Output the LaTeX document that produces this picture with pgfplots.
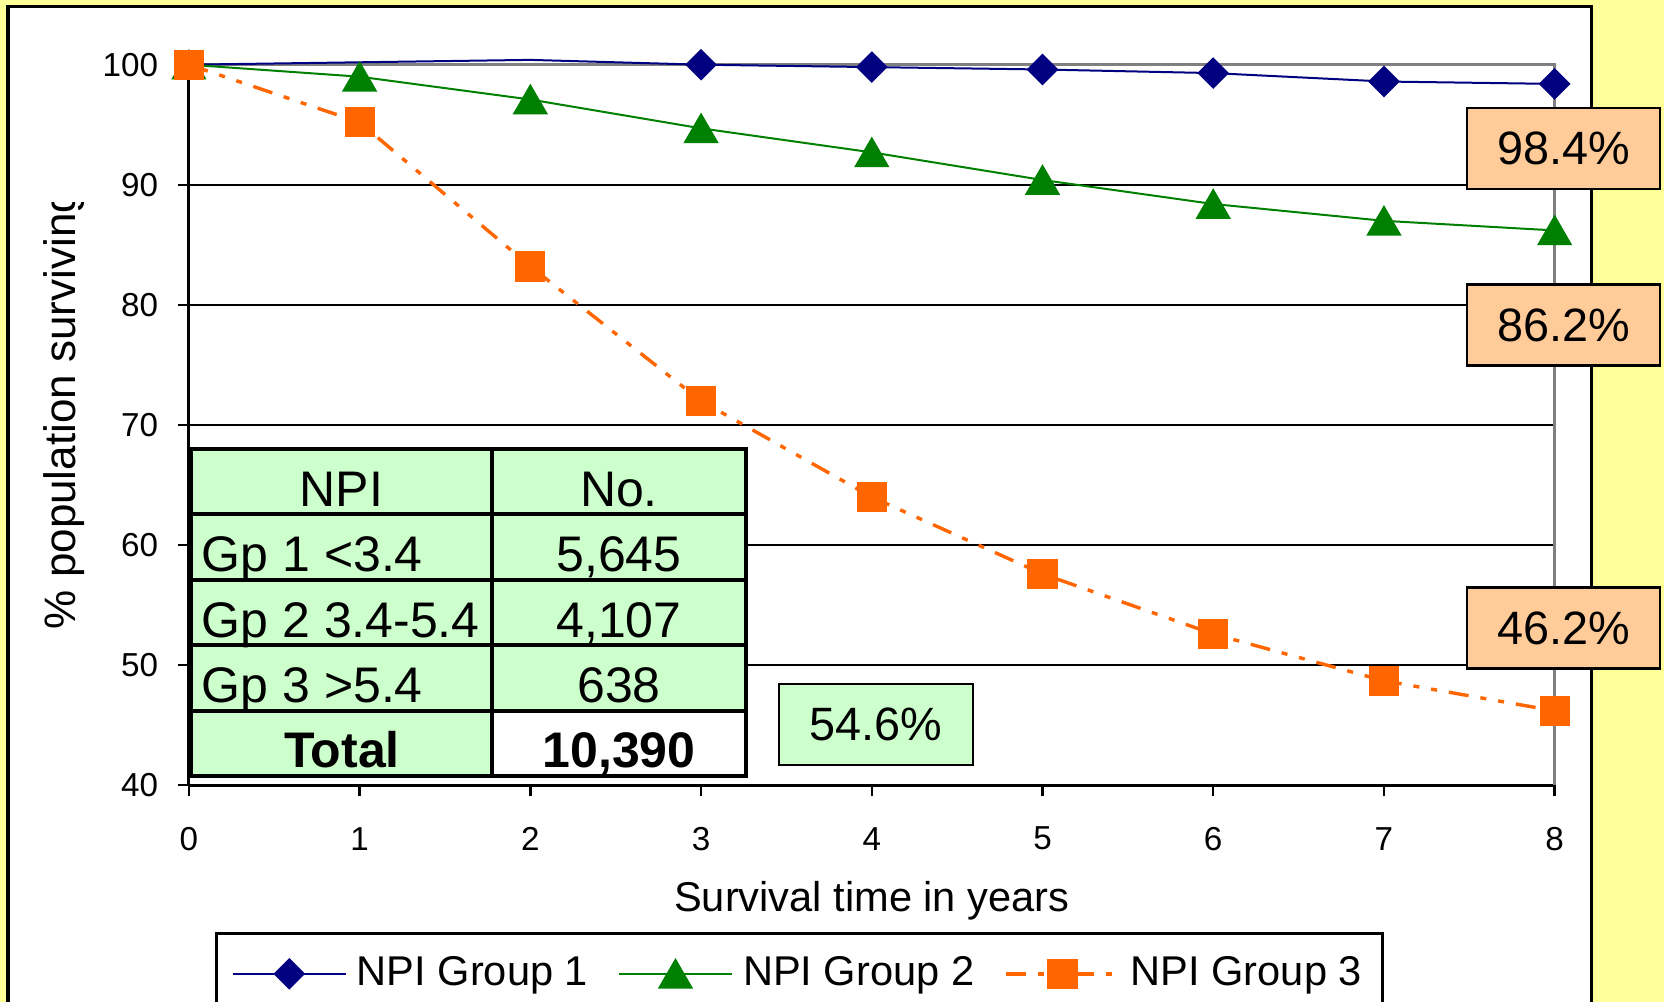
\documentclass[border=0pt]{standalone}
\usepackage{fontspec}
\setmainfont{Liberation Sans}
\usepackage{pgfplots}
\pgfplotsset{compat=1.18}
\definecolor{bg}{HTML}{FFFF99}
\definecolor{navyc}{HTML}{000080}
\definecolor{grp2}{HTML}{008000}
\definecolor{grp3}{HTML}{FF6600}
\definecolor{peach}{HTML}{FFCC99}
\definecolor{mint}{HTML}{CCFFCC}
\definecolor{gline}{HTML}{808080}
\begin{document}
\begin{tikzpicture}
\useasboundingbox (0,0) rectangle (416pt,-250.5pt);
\clip (0,0) rectangle (416pt,-250.5pt);
\fill[bg] (0,0) rectangle (416pt,-250.5pt);
\begin{scope}[x=0.25pt,y=-0.25pt]
\draw[fill=white, line width=0.9pt] (8,6.5) rectangle (1591.5,1040);
\end{scope}
\begin{axis}[
  scale only axis, width=341.45pt, height=180.15pt,
  at={(47.225pt,-196.325pt)}, anchor=south west,
  xmin=0, xmax=8, ymin=40, ymax=100,
  axis x line*=bottom, axis y line*=left,
  axis line style={line width=0.75pt, black},
  xtick={0,...,8}, ytick={40,50,...,100},
  tick align=outside, major tick length=2.75pt,
  tick style={line width=0.6pt, black},
  ymajorgrids, major grid style={line width=0.6pt, black},
  ticklabel style={font=\fontsize{8.3}{10}\selectfont},
  /pgf/number format/assume math mode=true,
  xticklabel style={anchor=center, inner sep=0pt, yshift=-10.6pt},
  yticklabel style={anchor=east, inner sep=0pt, xshift=-4.75pt},
  xlabel={Survival time in years},
  xlabel style={at={(axis description cs:0.5,0)}, anchor=center, inner sep=0pt, yshift=-28.9pt, font=\fontsize{10.4}{12}\selectfont},
  legend style={at={(0.0194,-0.2033)}, anchor=north west, legend columns=3,
    draw=black, line width=0.75pt, fill=white, inner xsep=3.75pt, inner ysep=4.25pt,
    font=\fontsize{10.4}{12}\selectfont, nodes={inner sep=1.5pt},
    /tikz/every odd column/.append style={column sep=1pt},
    /tikz/every even column/.append style={column sep=6pt}},
  legend image code/.code={\draw[mark repeat=2, mark phase=2, #1] plot coordinates {(0pt,0pt) (14.1pt,0pt) (28.25pt,0pt)};},
  clip=false,
]
\draw[gline, line width=0.6pt] (axis cs:0,100) -- (axis cs:8,100) -- (axis cs:8,40);
\addplot[navyc, line width=0.5pt, no marks, forget plot] coordinates {(0,100) (1,100.2) (2,100.4) (3,100.0)};
\addplot[navyc, line width=0.5pt, mark=square*, mark size=2.55pt, mark options={rotate=45, solid, fill=navyc}] coordinates {(3,100.0) (4,99.8) (5,99.6) (6,99.3) (7,98.6) (8,98.4)};
\addlegendentry{NPI Group 1}
\addplot[grp2, line width=0.5pt, mark=triangle*, mark size=4.6pt, mark options={solid, fill=grp2, yshift=-1.15pt}] coordinates {(0,100) (1,99.0) (2,97.1) (3,94.7) (4,92.7) (5,90.4) (6,88.4) (7,87.0) (8,86.2)};
\addlegendentry{NPI Group 2}
\addplot[grp3, line width=0.85pt, dash pattern=on 5pt off 3pt on 1.5pt off 3pt on 1.5pt off 3pt, mark=square*, mark size=3.35pt, mark options={solid, fill=grp3}] coordinates {(0,100) (1,95.2) (2,83.2) (3,72.0) (4,64.0) (5,57.6) (6,52.6) (7,48.7) (8,46.2)};
\addlegendentry{NPI Group 3}
\end{axis}
\begin{scope}[x=0.25pt,y=-0.25pt]
\begin{scope}
\clip (0,203) rectangle (180,1002);
\node[rotate=90, anchor=base west, inner sep=0pt, font=\fontsize{11}{13}\selectfont] at (76,630) {\% population surviving};
\end{scope}
% table
\fill[mint] (191,449) rectangle (746,776);
\fill[white] (492,710.6) rectangle (746,776);
\draw[line width=1pt] (191,449) rectangle (746,776);
\draw[line width=1pt] (492,449) -- (492,776);
\foreach \yy in {514.4,579.8,645.2,710.6} \draw[line width=1pt] (191,\yy) -- (746,\yy);
\begin{scope}[every node/.style={inner sep=0pt, font=\fontsize{12.5}{15}\selectfont}]
\node[anchor=base] at (341.5,506.4) {NPI};
\node[anchor=base] at (619,506.4) {No.};
\node[anchor=base west] at (201,571.8) {Gp 1 <3.4};
\node[anchor=base] at (619,571.8) {5,645};
\node[anchor=base west] at (201,637.2) {Gp 2 3.4-5.4};
\node[anchor=base] at (619,637.2) {4,107};
\node[anchor=base west] at (201,702.6) {Gp 3 >5.4};
\node[anchor=base] at (619,702.6) {638};
\node[anchor=base] at (342,768) {\textbf{Total}};
\node[anchor=base] at (619,768) {\textbf{10,390}};
\end{scope}
% value boxes
\begin{scope}[every node/.style={draw=black, line width=0.6pt, fill=peach, minimum width=48.25pt, minimum height=20.25pt, inner sep=0pt, font=\fontsize{11.7}{14}\selectfont}]
\node at (1563.5,148.5) {98.4\%};
\node at (1563.5,325) {86.2\%};
\node at (1563.5,628) {46.2\%};
\end{scope}
\node[draw=black, line width=0.5pt, fill=mint, minimum width=48.5pt, minimum height=20.25pt, inner sep=0pt, font=\fontsize{11.7}{14}\selectfont] at (876,724.5) {54.6\%};
\end{scope}
\end{tikzpicture}
\end{document}
